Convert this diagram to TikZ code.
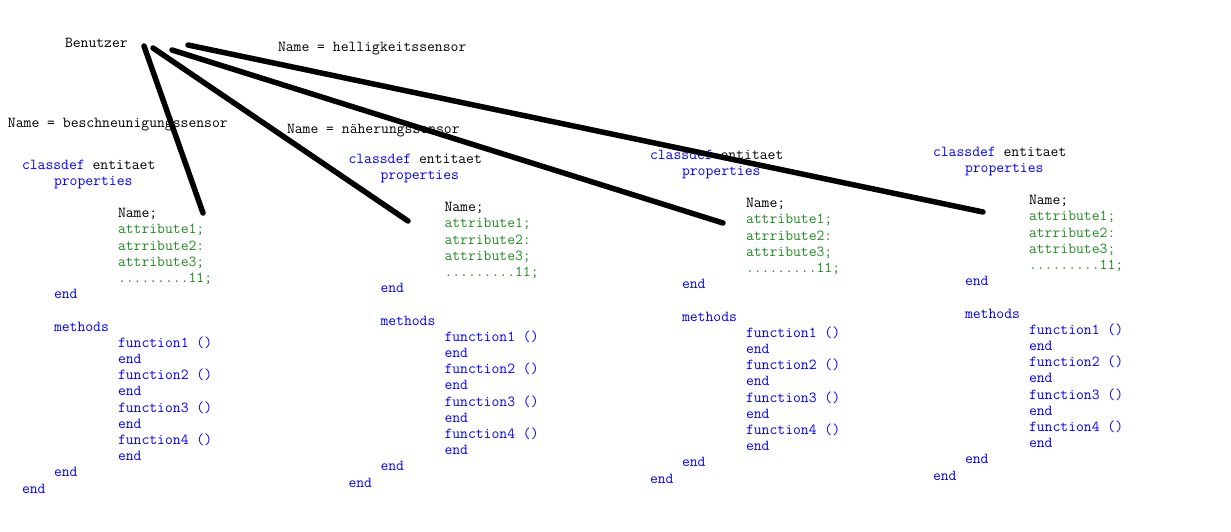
\documentclass[tikz,border=0pt]{standalone}
\usepackage{fontspec}
\definecolor{kwblue}{HTML}{0000FF}
\definecolor{attgreen}{HTML}{228B22}
\newcommand\kw[1]{\textcolor{kwblue}{#1}}
\newcommand\att[1]{\textcolor{attgreen}{#1}}
\tikzset{
  code/.style={inner sep=0pt, outer sep=0pt, anchor=base west,
    font=\ttfamily\fontsize{15.24}{16}\selectfont, text=black},
  wire/.style={line width=5.5pt, line cap=round, draw=black}
}
\newcommand\codecol[3]{%
  \foreach \k/\ind/\txt in {%
    0/0/{\kw{classdef} entitaet},
    1/1/{\kw{properties}},
    3/3/{Name;},
    4/3/{\att{attribute1;}},
    5/3/{\att{atrribute2:}},
    6/3/{\att{attribute3;}},
    7/3/{\att{.........11;}},
    8/1/{\kw{end}},
    10/1/{\kw{methods}},
    11/3/{\kw{function1 ()}},
    12/3/{\kw{end}},
    13/3/{\kw{function2 ()}},
    14/3/{\kw{end}},
    15/3/{\kw{function3 ()}},
    16/3/{\kw{end}},
    17/3/{\kw{function4 ()}},
    18/3/{\kw{end}},
    19/1/{\kw{end}},
    20/0/{\kw{end}}}
  {\node[code] (#1-\k) at ({#2+\ind*32},{#3+\k*16.2}) {\txt};}%
}
\begin{document}
\begin{tikzpicture}[x=1pt,y=-1pt]
\fill[white] (0,0) rectangle (1231,531);
\useasboundingbox (0,0) rectangle (1231,531);

\node[code] (benutzer) at (65,47) {Benutzer};
\node[code] (nhell) at (278,51) {Name = helligkeitssensor};
\node[code] (nbesch) at (8,127) {Name = beschneunigungssensor};
\node[code] (nnah) at (287,133) {Name = näherungssensor};

\codecol{a}{22}{169}
\codecol{b}{348.5}{163}
\codecol{c}{650}{159}
\codecol{d}{933}{156}

\coordinate (u1) at (144,46);
\coordinate (u2) at (153,48);
\coordinate (u3) at (172,50);
\coordinate (u4) at (188,45);
\coordinate (e1) at (203,213);
\coordinate (e2) at (408,221);
\coordinate (e3) at (723,223);
\coordinate (e4) at (983,212);

\draw[wire] (u1) -- (e1);
\draw[wire] (u2) -- (e2);
\draw[wire] (u3) -- (e3);
\draw[wire] (u4) -- (e4);
\end{tikzpicture}
\end{document}
